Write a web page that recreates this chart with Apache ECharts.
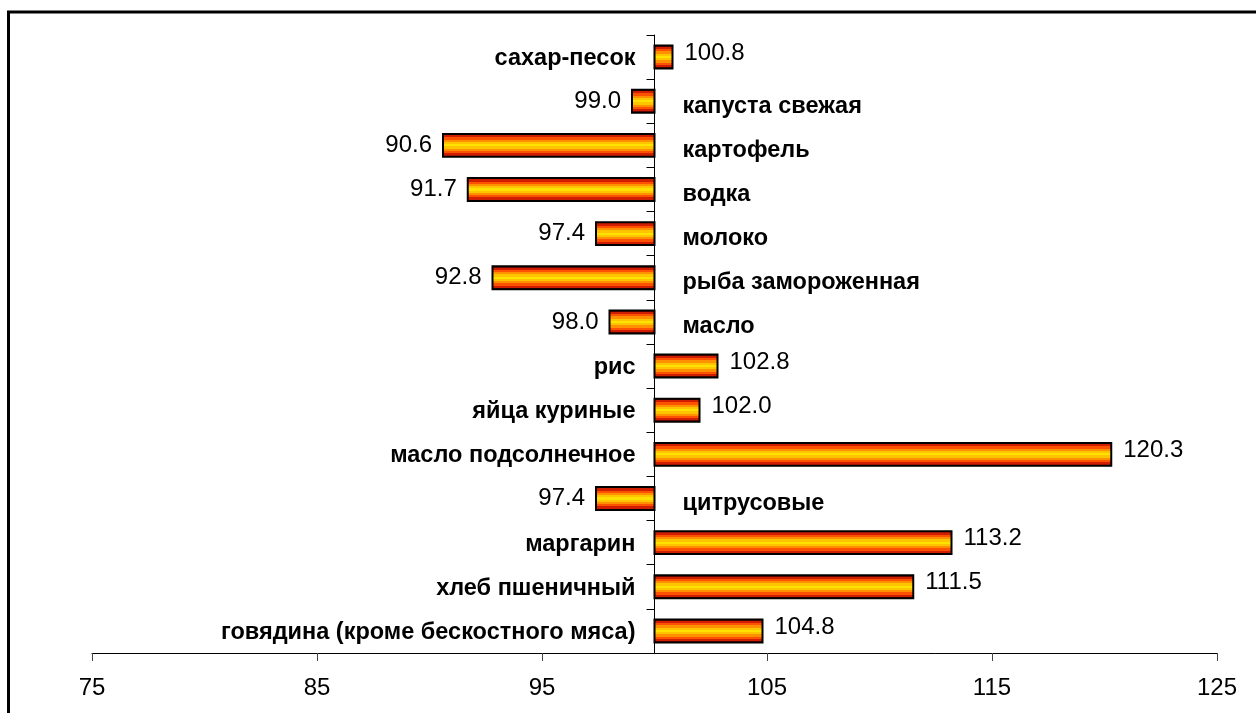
<!DOCTYPE html>
<html>
<head>
<meta charset="utf-8">
<script src="https://cdn.jsdelivr.net/npm/echarts@6/dist/echarts.min.js"></script>
<style>
  html, body { margin: 0; padding: 0; background: #fff; }
  #chart { width: 1256px; height: 713px; }
</style>
</head>
<body>
<div id="chart"></div>
<script>
// categories, top to bottom
const categories = [
  'сахар-песок',
  'капуста свежая',
  'картофель',
  'водка',
  'молоко',
  'рыба замороженная',
  'масло',
  'рис',
  'яйца куриные',
  'масло подсолнечное',
  'цитрусовые',
  'маргарин',
  'хлеб пшеничный',
  'говядина (кроме бескостного мяса)'
];
const values = [100.8, 99.0, 90.6, 91.7, 97.4, 92.8, 98.0, 102.8, 102.0, 120.3, 97.4, 113.2, 111.5, 104.8];
const baseValue = 100;
const tickValues = [75, 85, 95, 105, 115, 125];

const FONT = '"Liberation Sans", Arial, sans-serif';
const gridLeft = 92, gridRight = 39;
const xMin = 75, xMax = 125;
const gridWidth = 1256 - gridLeft - gridRight;

// striped "fire" fill, edge -> centre
const stripes = ['#7a0800', '#d01e00', '#ff5200', '#ff9000', '#ffc400', '#ffe200'];
function fireFill() {
  const n = stripes.length * 2 - 1;
  const seq = stripes.concat(stripes.slice(0, -1).reverse());
  const stops = [];
  seq.forEach((c, i) => {
    stops.push({ offset: i / n, color: c });
    stops.push({ offset: (i + 1) / n, color: c });
  });
  return { type: 'linear', x: 0, y: 0, x2: 0, y2: 1, colorStops: stops };
}

let chart = echarts.init(document.getElementById('chart'));

let option = {
  backgroundColor: '#fff',
  animation: false,
  graphic: [{
    type: 'rect',
    silent: true,
    shape: { x: 8.5, y: 12, width: 1400, height: 900 },
    style: { fill: 'none', stroke: '#000', lineWidth: 3 }
  }],
  grid: { left: gridLeft, right: gridRight, top: 35, bottom: 60 },
  xAxis: {
    type: 'value',
    min: xMin,
    max: xMax,
    splitLine: { show: false },
    axisLine: { show: true, lineStyle: { color: '#000', width: 1 } },
    axisTick: { show: true, length: 8, customValues: tickValues, lineStyle: { color: '#444' } },
    axisLabel: {
      customValues: tickValues,
      margin: 23,
      color: '#000',
      fontSize: 24,
      fontFamily: FONT
    }
  },
  yAxis: {
    type: 'category',
    inverse: true,
    data: categories,
    position: 'left',
    // move the category axis to x = 100
    offset: -(baseValue - xMin) / (xMax - xMin) * gridWidth,
    axisLine: { show: true, lineStyle: { color: '#000', width: 1 } },
    axisTick: { show: true, length: 8, lineStyle: { color: '#000' } },
    axisLabel: { show: false },
    splitLine: { show: false }
  },
  series: [{
    type: 'custom',
    clip: false,
    encode: { x: 0, y: 1 },
    data: values.map((v, i) => [v, i]),
    renderItem(params, api) {
      const v = api.value(0);
      const idx = api.value(1);
      const p0 = api.coord([baseValue, idx]);
      const p1 = api.coord([v, idx]);
      const h = api.size([0, 1])[1] * 0.52;
      const up = v >= baseValue;
      const x = Math.min(p0[0], p1[0]);
      const w = Math.abs(p1[0] - p0[0]);
      return {
        type: 'group',
        children: [
          {
            type: 'rect',
            shape: { x: x, y: p0[1] - h / 2, width: w, height: h },
            style: { fill: fireFill(), stroke: '#000', lineWidth: 2 }
          },
          {
            type: 'text',
            x: up ? p0[0] - 19 : p0[0] + 28,
            y: p0[1] + (up ? 1.5 : 5),
            style: {
              text: categories[idx],
              fill: '#000',
              font: 'bold 23.5px ' + FONT,
              align: up ? 'right' : 'left',
              verticalAlign: 'middle'
            }
          },
          {
            type: 'text',
            x: up ? p1[0] + 12 : p1[0] - 11,
            y: p0[1] + (up ? -4 : 0),
            style: {
              text: v.toFixed(1),
              fill: '#000',
              font: '24px ' + FONT,
              align: up ? 'left' : 'right',
              verticalAlign: 'middle'
            }
          }
        ]
      };
    }
  }]
};

chart.setOption(option);
window.addEventListener('resize', chart.resize, false);
</script>
</body>
</html>
